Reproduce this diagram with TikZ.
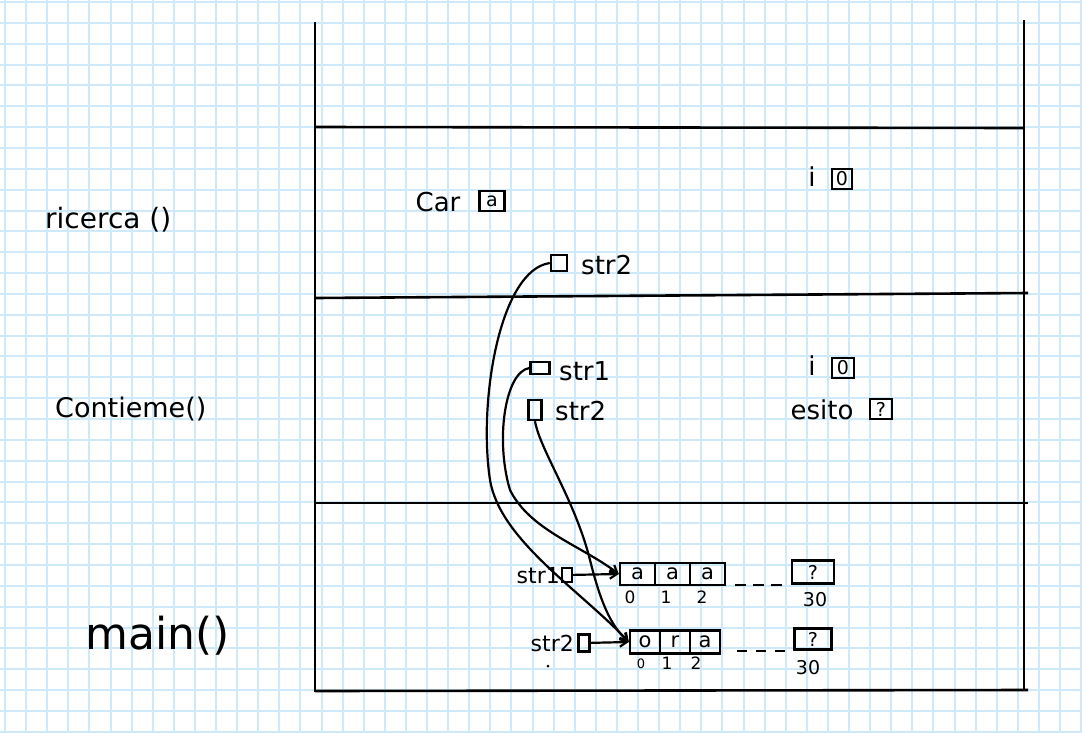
\documentclass[tikz,border=0pt]{standalone}
\usepackage{fontspec}
\setmainfont{DejaVu Sans}
\usetikzlibrary{arrows.meta}
\definecolor{gridc}{RGB}{205,233,250}
\begin{document}
\begin{tikzpicture}[x=1pt,y=-1pt,
  ln/.style={line width=2.6pt,black},
  lbl/.style={inner sep=1pt,font=\fontsize{26}{28}\selectfont},
  sbox/.style={draw,line width=2.4pt,inner sep=0pt,font=\fontsize{19}{20}\selectfont},
  cell/.style={sbox,minimum width=35pt,minimum height=22pt,font=\fontsize{21}{22}\selectfont},
  idx/.style={inner sep=0pt,font=\fontsize{17}{18}\selectfont},
  ptr/.style={line width=2.2pt,-{Straight Barb[length=7pt,width=9pt]}}]
\useasboundingbox (0,0) rectangle (1082,732);
\fill[white] (0,0) rectangle (1082,732);
\foreach \i in {0,...,51} \draw[gridc,line width=2pt] ({5+\i*21.1},0) -- ++(0,732);
\foreach \j in {0,...,35} \draw[gridc,line width=2pt] (0,{2+\j*20.85}) -- ++(1082,0);
% frame
\coordinate (tl) at (315,22); \coordinate (bl) at (315,692);
\coordinate (tr) at (1024,20); \coordinate (br) at (1024,690);
\draw[ln] (tl) -- (bl);
\draw[ln] (tr) -- (br);
\draw[ln] (315,127) -- (1024,128);
\draw[ln] (315,298) -- (1028,293);
\draw[ln] (315,503) -- (1028,503);
\draw[ln] (315,691) -- (1028,690);
% frame labels
\node[inner sep=1pt,font=\fontsize{28}{30}\selectfont,anchor=west] (lric) at (44,220) {ricerca ()};
\node[inner sep=1pt,font=\fontsize{27}{29}\selectfont,anchor=west] (lcon) at (54,409) {Contieme()};
\node[inner sep=1pt,font=\fontsize{44}{46}\selectfont,anchor=west] (lmain) at (84,636) {main()};
% ricerca frame
\node[lbl] (car) at (438,202) {Car};
\node[sbox,minimum width=25pt,minimum height=20pt] (cara) at (492,201) {a};
\node[lbl] (ri) at (812,177) {i};
\node[sbox,minimum width=20pt,minimum height=20pt] (ribox) at (842,179) {0};
\node[sbox,minimum width=16pt,minimum height=16pt] (rstr) at (559,263) {};
\node[lbl,anchor=west] (rstrl) at (580,265) {str2};
% contieme frame
\node[sbox,minimum width=19pt,minimum height=12pt] (cstr1) at (540,368) {};
\node[lbl,anchor=west] (cstr1l) at (558,371) {str1};
\node[sbox,minimum width=13pt,minimum height=20pt] (cstr2) at (535,410) {};
\node[lbl,anchor=west] (cstr2l) at (554,411) {str2};
\node[lbl] (ci) at (812,366) {i};
\node[sbox,minimum width=22pt,minimum height=20pt] (cibox) at (843,368) {0};
\node[lbl] (esito) at (822,410) {esito};
\node[sbox,minimum width=22pt,minimum height=20pt] (esbox) at (881,409) {?};
% main frame row 1
\node[lbl,anchor=east,font=\fontsize{22}{24}\selectfont] (m1l) at (561,576) {str1};
\node[sbox,minimum width=10pt,minimum height=14pt] (m1p) at (567,575) {};
\node[cell] (a0) at (637.5,574) {a};
\node[cell] (a1) at (672.5,574) {a};
\node[cell] (a2) at (707.5,574) {a};
\node[idx] at (630,597) {0};
\node[idx] at (666,597) {1};
\node[idx] at (702,597) {2};
\node[sbox,minimum width=42pt,minimum height=23pt] (a30) at (813,572) {?};
\node[idx,font=\fontsize{19}{20}\selectfont] at (815,600) {30};
\draw[line width=2.2pt,dash pattern=on 11pt off 7pt] (735,585) -- (787,585);
\draw[ptr] (m1p) -- (a0.west);
% main frame row 2
\node[lbl,anchor=east,font=\fontsize{22}{24}\selectfont] (m2l) at (575,643) {str2};
\node[sbox,minimum width=11pt,minimum height=17pt] (m2p) at (584,643) {};
\node[cell,minimum width=30pt,minimum height=23pt] (b0) at (645,642) {o};
\node[cell,minimum width=30pt,minimum height=23pt] (b1) at (675,642) {r};
\node[cell,minimum width=30pt,minimum height=23pt] (b2) at (705,642) {a};
\node[idx,font=\fontsize{13}{14}\selectfont] at (641,664) {0};
\node[idx] at (667,663) {1};
\node[idx] at (696,663) {2};
\node[sbox,minimum width=37pt,minimum height=21pt] (b30) at (813,639) {?};
\node[idx,font=\fontsize{19}{20}\selectfont] at (808,668) {30};
\draw[line width=2.2pt,dash pattern=on 10pt off 9pt] (737,651) -- (792,651);
\draw[ptr] (m2p) -- (b0.west);
\fill (548,666) circle (1.5pt);
% pointer curves
\draw[ptr] (rstr.west) .. controls (500,270) and (478,400) .. (490,480)
  .. controls (500,540) and (580,590) .. (b0.west);
\draw[ptr] (cstr1.west) .. controls (505,372) and (495,440) .. (510,490)
  .. controls (530,530) and (580,545) .. (a0.west);
\draw[ptr] (cstr2.south) .. controls (540,450) and (575,500) .. (590,560)
  .. controls (600,600) and (610,625) .. (b0.west);
\end{tikzpicture}
\end{document}
